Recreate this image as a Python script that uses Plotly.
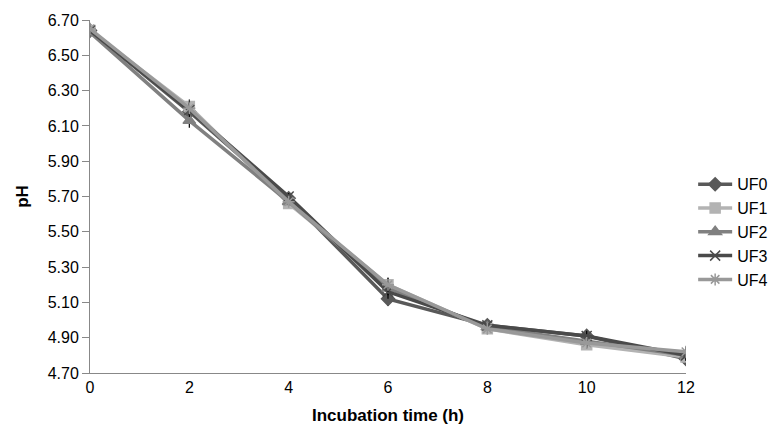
import plotly.graph_objects as go

time_h = [0, 2, 4, 6, 8, 10, 12]
uf0 = [6.64, 6.18, 5.69, 5.12, 4.97, 4.91, 4.78]
uf1 = [6.64, 6.21, 5.66, 5.20, 4.95, 4.86, 4.79]
uf2 = [6.63, 6.13, 5.67, 5.18, 4.96, 4.88, 4.80]
uf3 = [6.64, 6.19, 5.70, 5.16, 4.97, 4.91, 4.80]
uf4 = [6.65, 6.20, 5.67, 5.20, 4.95, 4.87, 4.82]
err = [0.02, 0.04, 0.02, 0.04, 0.01, 0.03, 0.03]

series = [
    ("UF0", uf0, "#595959", "diamond", 10),
    ("UF1", uf1, "#b3b3b3", "square", 10),
    ("UF2", uf2, "#808080", "triangle-up", 11),
    ("UF3", uf3, "#4a4a4a", "x-thin-open", 10),
    ("UF4", uf4, "#999999", "asterisk-open", 10),
]

fig = go.Figure()
for name, vals, col, sym, sz in series:
    fig.add_trace(go.Scatter(
        x=time_h, y=vals, name=name, mode="lines+markers",
        line=dict(color=col, width=3.5),
        marker=dict(symbol=sym, size=sz, color=col, line=dict(color=col, width=1.5)),
        error_y=dict(type="data", array=err, color="black", thickness=1.2, width=0),
    ))

fig.update_layout(
    width=780, height=428,
    margin=dict(l=82, r=102, t=12, b=63, autoexpand=False),
    paper_bgcolor="white", plot_bgcolor="white",
    font=dict(family="Liberation Sans, Arial, sans-serif", size=16, color="black"),
    showlegend=True,
    legend=dict(x=1.012, y=0.40, yanchor="middle", xanchor="left",
                font=dict(size=16), itemwidth=34),
)
fig.update_xaxes(
    range=[0, 12], tickvals=time_h, ticktext=[str(t) for t in time_h],
    showline=True, linecolor="#888888", linewidth=1, showgrid=False, zeroline=False,
    ticks="", title=dict(text="<b>Incubation time (h)</b>", standoff=13, font=dict(size=17)),
)
fig.update_yaxes(
    range=[4.70, 6.70], tickvals=[4.70 + 0.2 * i for i in range(11)],
    tickformat=".2f", showline=True, linecolor="#888888", linewidth=1,
    showgrid=False, zeroline=False, ticks="outside", ticklen=7, tickcolor="#888888",
    title=dict(text="<b>pH</b>", standoff=14, font=dict(size=17)),
)
fig.write_html("out.html")
